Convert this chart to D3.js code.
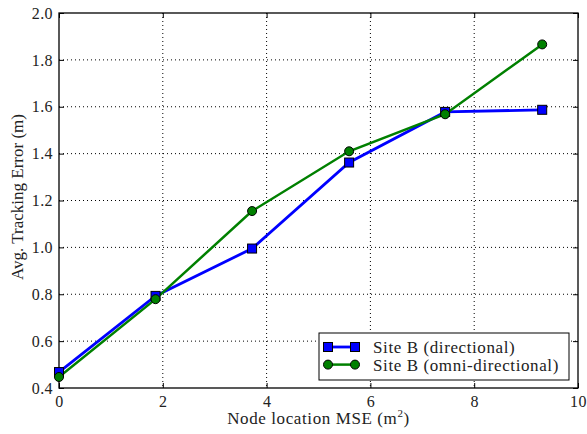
<!DOCTYPE html>
<html>
<head>
<meta charset="utf-8">
<script src="https://cdn.jsdelivr.net/npm/d3@7"></script>
<style>
  body { margin: 0; background: #fff; }
  svg text { font-family: "Liberation Serif", serif; fill: #222; }
</style>
</head>
<body>
<div id="chart"></div>
<script>
// data
const mseValues = [0, 1.86, 3.72, 5.59, 7.44, 9.31];
const directional = [0.468, 0.793, 0.995, 1.362, 1.578, 1.587];
const omniDirectional = [0.447, 0.779, 1.155, 1.41, 1.568, 1.866];
const xTicks = [0, 2, 4, 6, 8, 10];
const yTicks = [0.4, 0.6, 0.8, 1.0, 1.2, 1.4, 1.6, 1.8, 2.0];
const seriesNames = ['Site B (directional)', 'Site B (omni-directional)'];

const W = 587, H = 434,
    margin = { top: 13, right: 9, bottom: 46, left: 59 },
    width = W - margin.left - margin.right,
    height = H - margin.top - margin.bottom;

const svg = d3.select('#chart')
    .append('svg')
        .attr('width', W)
        .attr('height', H)
    .append('g')
        .attr('transform', `translate(${margin.left}, ${margin.top})`);

const x = d3.scaleLinear().domain([0, 10]).range([0, width]);
const y = d3.scaleLinear().domain([0.4, 2.0]).range([height, 0]);

// dotted grid
svg.append('g')
    .selectAll('line.vg')
    .data(xTicks.slice(1, -1))
    .enter().append('line')
        .attr('x1', d => x(d)).attr('x2', d => x(d))
        .attr('y1', 0).attr('y2', height)
        .attr('stroke', '#000').attr('stroke-width', 1)
        .attr('stroke-dasharray', '1,3');
svg.append('g')
    .selectAll('line.hg')
    .data(yTicks.slice(1, -1))
    .enter().append('line')
        .attr('x1', 0).attr('x2', width)
        .attr('y1', d => y(d)).attr('y2', d => y(d))
        .attr('stroke', '#000').attr('stroke-width', 1)
        .attr('stroke-dasharray', '1,3');

// axes with inward ticks
const fmtY = d3.format('.1f');
svg.append('g')
    .attr('transform', `translate(0, ${height})`)
    .call(d3.axisBottom(x).tickValues(xTicks).tickSize(-5).tickPadding(8).tickFormat(d3.format('d')))
    .call(g => g.select('.domain').remove());
svg.append('g')
    .call(d3.axisTop(x).tickValues(xTicks).tickSize(-5).tickFormat(''))
    .call(g => g.select('.domain').remove());
svg.append('g')
    .call(d3.axisLeft(y).tickValues(yTicks).tickSize(-5).tickPadding(6).tickFormat(fmtY))
    .call(g => g.select('.domain').remove());
svg.append('g')
    .attr('transform', `translate(${width}, 0)`)
    .call(d3.axisRight(y).tickValues(yTicks).tickSize(-5).tickFormat(''))
    .call(g => g.select('.domain').remove());

svg.selectAll('.tick text')
    .style('font-family', '"Liberation Serif", serif')
    .style('font-size', '16px')
    .attr('letter-spacing', 0.4)
    .attr('fill', '#222');
svg.selectAll('.tick line').attr('stroke', '#000');

svg.append('rect')
    .attr('width', width).attr('height', height)
    .attr('fill', 'none').attr('stroke', '#000').attr('stroke-width', 1.3);

// lines
const line = d3.line()
    .x((d, i) => x(mseValues[i]))
    .y(d => y(d));

svg.append('path')
    .datum(directional)
    .attr('fill', 'none').attr('stroke', '#0000ff').attr('stroke-width', 2.8)
    .attr('d', line);
svg.append('path')
    .datum(omniDirectional)
    .attr('fill', 'none').attr('stroke', '#008000').attr('stroke-width', 2.5)
    .attr('d', line);

svg.append('g')
    .selectAll('rect')
    .data(directional)
    .enter().append('rect')
        .attr('x', (d, i) => x(mseValues[i]) - 4.5)
        .attr('y', d => y(d) - 4.5)
        .attr('width', 9).attr('height', 9)
        .attr('fill', '#0000ff').attr('stroke', '#000').attr('stroke-width', 1);
svg.append('g')
    .selectAll('circle')
    .data(omniDirectional)
    .enter().append('circle')
        .attr('cx', (d, i) => x(mseValues[i]))
        .attr('cy', d => y(d))
        .attr('r', 4.5)
        .attr('fill', '#008000').attr('stroke', '#000').attr('stroke-width', 1);

// axis labels
const xl = svg.append('text')
    .attr('x', width / 2).attr('y', height + 36)
    .attr('text-anchor', 'middle')
    .attr('font-size', 17)
    .attr('letter-spacing', 0.6);
xl.append('tspan').text('Node location MSE (m');
xl.append('tspan').text('2').attr('font-size', 11).attr('dy', -7);
xl.append('tspan').text(')').attr('dy', 7);

svg.append('text')
    .attr('transform', `translate(-36, 184) rotate(-90)`)
    .attr('text-anchor', 'middle')
    .attr('font-size', 17)
    .text('Avg. Tracking Error (m)');

// legend
const legend = svg.append('g')
    .attr('transform', `translate(260, ${height - 55})`);
legend.append('rect')
    .attr('width', 250).attr('height', 47)
    .attr('fill', '#fff').attr('stroke', '#000').attr('stroke-width', 1);
const legendItems = [
    { name: seriesNames[0], color: '#0000ff', shape: 'square', lw: 2.8 },
    { name: seriesNames[1], color: '#008000', shape: 'circle', lw: 2.5 }
];
legendItems.forEach(function(item, i) {
    const gy = 14 + i * 17.6;
    const g = legend.append('g').attr('transform', `translate(0, ${gy})`);
    g.append('line')
        .attr('x1', 9).attr('x2', 36)
        .attr('stroke', item.color).attr('stroke-width', item.lw);
    [9, 36].forEach(function(cx) {
        if (item.shape === 'square') {
            g.append('rect')
                .attr('x', cx - 4.5).attr('y', -4.5)
                .attr('width', 9).attr('height', 9)
                .attr('fill', item.color).attr('stroke', '#000');
        } else {
            g.append('circle')
                .attr('cx', cx).attr('r', 4.5)
                .attr('fill', item.color).attr('stroke', '#000');
        }
    });
    g.append('text')
        .attr('x', 54).attr('dy', '0.35em')
        .attr('font-size', 17)
        .attr('letter-spacing', 0.6)
        .text(item.name);
});
</script>
</body>
</html>
